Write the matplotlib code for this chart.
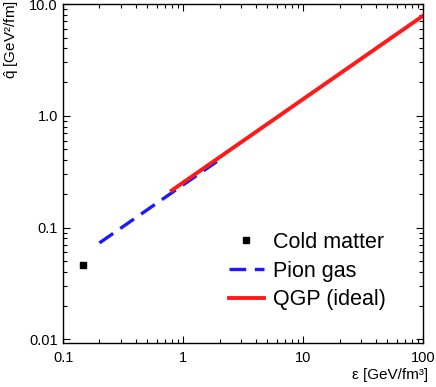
import matplotlib.pyplot as plt
from matplotlib.ticker import FixedLocator, FixedFormatter, LogLocator, NullFormatter

plt.rcParams['font.family'] = ['Liberation Sans', 'DejaVu Sans']
plt.rcParams['mathtext.fontset'] = 'custom'
plt.rcParams['mathtext.rm'] = 'Liberation Sans'
plt.rcParams['mathtext.it'] = 'Liberation Sans'

# values (log-log, straight lines)
cold_eps = [0.146]
cold_q = [0.046]
pion_eps = [0.2, 1.9]
pion_q = [0.073, 0.39]
qgp_eps = [0.8, 100]
qgp_q = [0.215, 7.9]

x_ticks = [0.1, 1, 10, 100]
x_labels = ['0.1', '1', '10', '100']
y_ticks = [0.01, 0.1, 1, 10]
y_labels = ['0.01', '0.1', '1.0', '10.0']

fig = plt.figure(figsize=(4.36, 3.87), dpi=100)
ax = fig.add_axes([0.1452, 0.1137, 0.8261, 1 - 4 / 387 - 0.1137])

ax.plot(cold_eps, cold_q, 's', color='black', markersize=4.5, label='Cold matter')
ax.plot(pion_eps, pion_q, color='#1a1aff', linewidth=2.4, dashes=(5, 2.6), label='Pion gas')
ax.plot(qgp_eps, qgp_q, color='#ff1a1a', linewidth=2.8, label='QGP (ideal)')

ax.set_xscale('log')
ax.set_yscale('log')
ax.set_xlim(0.1, 100)
ax.set_ylim(0.0093, 10)

ax.xaxis.set_major_locator(FixedLocator(x_ticks))
ax.xaxis.set_major_formatter(FixedFormatter(x_labels))
ax.yaxis.set_major_locator(FixedLocator(y_ticks))
ax.yaxis.set_major_formatter(FixedFormatter(y_labels))
for axis in (ax.xaxis, ax.yaxis):
    axis.set_minor_locator(LogLocator(base=10, subs=range(2, 10)))
    axis.set_minor_formatter(NullFormatter())

ax.tick_params(which='both', direction='in', top=True, right=True, labelsize=10.5, width=0.8)
ax.tick_params(which='major', length=5)
ax.tick_params(which='minor', length=3)
ax.tick_params(axis='x', pad=6)
ax.tick_params(axis='y', pad=4)
for s in ax.spines.values():
    s.set_linewidth(1.0)

fig.text(0.982, 1 - 375 / 387, 'ε [GeV/fm³]', ha='right', va='center', fontsize=11)
fig.text(12 / 436, 0.999, r'$\hat{\mathrm{q}}$ [GeV²/fm]', rotation=90,
         ha='center', va='top', fontsize=11)

ax.legend(loc='lower right', frameon=False, fontsize=15.5, handlelength=1.6,
          handletextpad=0.45, labelspacing=0.35, markerscale=1.0,
          bbox_to_anchor=(0.95, 0.04))

fig.savefig('out.png', dpi=100)
